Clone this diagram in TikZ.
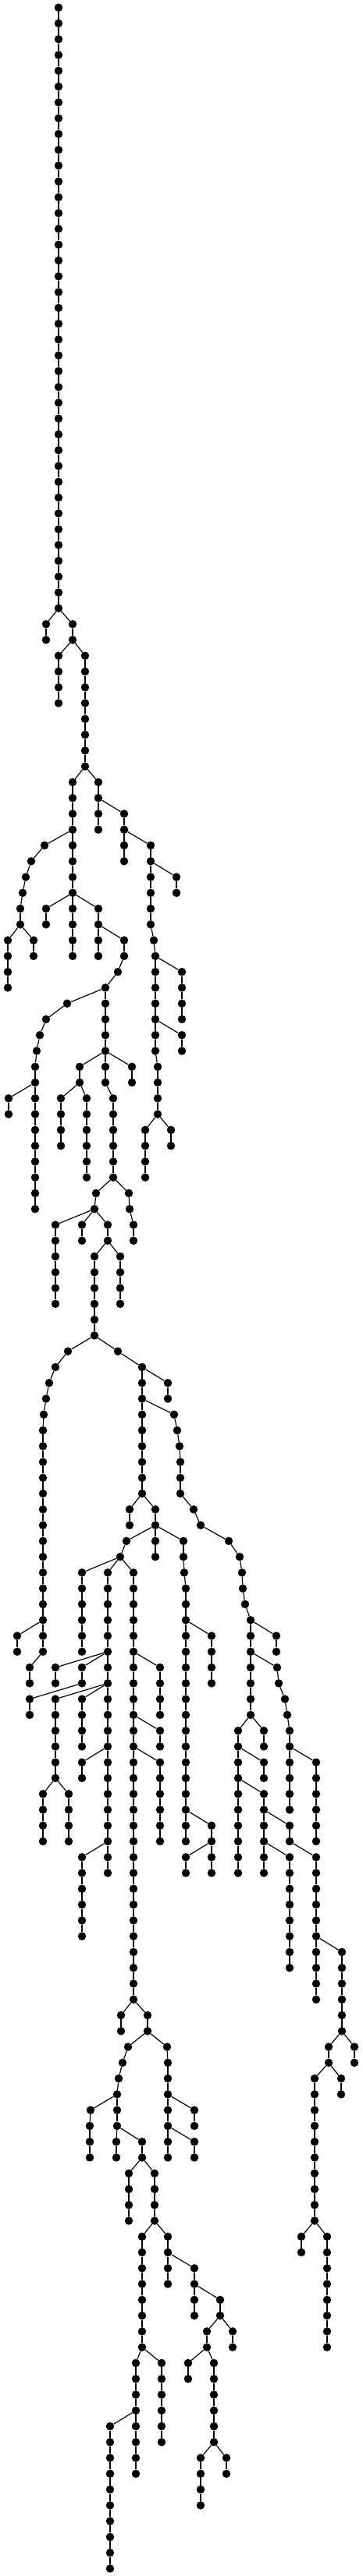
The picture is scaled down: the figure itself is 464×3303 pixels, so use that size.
\documentclass[tikz,border=0pt]{standalone}

\tikzset{
  dot/.style={circle, fill=black, inner sep=0pt, minimum size=10.5pt},
  edge/.style={line width=1.2pt}
}

% straight run of nodes: name, parent, x, first level, last level
\newcommand\vchain[5]{%
  \foreach \l in {#4,...,#5}{\node[dot] (#1-\l) at (#3,\l) {};}
  \draw[edge] (#2) -- (#1-#4);
  \foreach \l [remember=\l as \lp (initially #4)] in {#4,...,#5}{%
    \ifnum\l>#4\relax \draw[edge] (#1-\lp) -- (#1-\l);\fi}
}
% bent run of nodes: name, parent, list x/level
\newcommand\bchain[3]{%
  \foreach \x/\l [count=\i, remember=\l as \lp (initially 0)] in {#3}{%
    \node[dot] (#1-\l) at (\x,\l) {};
    \ifnum\i=1\relax \draw[edge] (#2) -- (#1-\l);\else \draw[edge] (#1-\lp) -- (#1-\l);\fi}
}

\begin{document}
\begin{tikzpicture}[x=1pt, y=-20.27pt]

        \useasboundingbox (0pt,9.7pt) rectangle (464pt,-3293.3pt);

        \node[dot] (r-0) at (75,0) {};
        \vchain{r}{r-0}{75}{1}{38}
        \vchain{a}{r-38}{59}{39}{40}
        \vchain{b}{r-38}{93}{39}{40}
        \vchain{c}{b-40}{75}{41}{44}
        \vchain{d}{b-40}{109}{41}{48}

        \vchain{e}{d-48}{93}{49}{56}
        \bchain{f}{e-52}{57/53,40/54,33/55,29/56,26/57,26/58}
        \vchain{g}{f-58}{10}{59}{62}
        \vchain{h}{f-58}{43}{59}{60}
        \vchain{i}{e-56}{59}{57}{58}
        \vchain{j}{e-56}{93}{57}{60}
        \vchain{k}{e-56}{126}{57}{58}
        \vchain{l}{k-58}{126}{59}{60}
        \bchain{m}{k-58}{159/59,159/60,151/61,135/62}
        \bchain{n}{m-62}{86/63,59/64,51/65,47/66,45/67}
        \vchain{o}{n-67}{45}{68}{76}
        \vchain{p}{o-68}{11}{69}{70}
        \vchain{q}{m-62}{135}{63}{66}
        \vchain{s}{q-66}{102}{67}{68}
        \vchain{t}{q-66}{135}{67}{68}
        \vchain{u}{q-66}{169}{67}{68}
        \vchain{v}{s-68}{78}{69}{72}
        \vchain{w}{s-68}{111}{69}{74}
        \vchain{t2}{t-68}{145}{69}{74}
        \bchain{x}{t2-74}{123/75,121/76}
        \bchain{y}{t2-74}{165/75,166/76,171/77,171/78}
        \vchain{z1}{x-76}{71}{77}{82}
        \vchain{z2}{x-76}{105}{77}{78}
        \vchain{z3}{x-76}{138}{77}{78}
        \vchain{z4}{z3-78}{121}{79}{84}
        \vchain{z5}{z3-78}{154}{79}{82}
        \bchain{aa}{z4-84}{87/85,71/86,63/87,59/88,56/89}
        \vchain{ab}{aa-89}{55}{90}{104}
        \vchain{ac}{ab-102}{22}{103}{104}
        \vchain{ad}{ab-104}{38}{105}{106}
        \bchain{ae}{z4-84}{151/85,182/86}
        \vchain{af}{ae-86}{182}{87}{94}
        \vchain{ag}{ae-86}{215}{87}{88}
        \bchain{ah}{af-88}{223/89,227/90,230/91,231/92,231/93,231/94,248/95,257/96,293/97,307/98,310/99,311/100,314/101,321/102}
        \vchain{ai}{af-94}{166}{95}{96}
        \vchain{aj}{af-94}{199}{95}{98}
        \bchain{ak}{aj-96}{162/97,154/98}
        \bchain{al}{aj-96}{235/97,235/98,236/99}
        \vchain{am}{al-99}{238}{100}{116}
        \vchain{an}{am-102}{271}{103}{106}
        \vchain{ao}{am-114}{271}{115}{116}
        \vchain{ap}{ao-116}{238}{117}{118}
        \vchain{aq}{ao-116}{271}{117}{118}
        \vchain{ar}{ak-98}{105}{99}{104}
        \vchain{as}{ak-98}{138}{99}{116}
        \vchain{at}{ak-98}{171}{99}{126}
        \vchain{au}{as-104}{71}{105}{106}
        \vchain{av}{as-104}{105}{105}{106}
        \vchain{aw}{av-106}{38}{107}{108}
        \vchain{ax}{as-106}{71}{107}{112}
        \vchain{ay}{as-106}{105}{107}{110}
        \vchain{az}{ax-112}{55}{113}{116}
        \vchain{ba}{ax-112}{88}{113}{116}
        \vchain{bb}{as-110}{105}{111}{112}
        \vchain{bc}{as-116}{105}{117}{122}
        \vchain{bd}{as-116}{138}{117}{118}
        \vchain{be}{at-104}{205}{105}{108}
        \vchain{bf}{at-108}{205}{109}{110}
        \vchain{bg}{at-110}{205}{111}{116}
        \vchain{bh}{at-126}{155}{127}{128}
        \vchain{bi}{at-126}{189}{127}{128}
        \bchain{bj}{bi-128}{164/129,157/130,152/131,150/132}
        \bchain{bk}{bi-128}{214/129,215/130,215/131,215/132}
        \bchain{bl}{bj-132}{116/133,115/134,115/135,115/136}
        \vchain{bm}{bj-132}{150}{133}{134}
        \vchain{bn}{bm-134}{149}{135}{136}
        \vchain{bo}{bm-134}{182}{135}{136}
        \vchain{bp}{bo-136}{165}{137}{140}
        \vchain{bq}{bo-136}{198}{137}{140}
        \vchain{br}{bq-140}{182}{141}{148}
        \vchain{bs}{bq-140}{215}{141}{142}
        \vchain{bt}{bs-142}{215}{143}{144}
        \vchain{bu}{bs-142}{249}{143}{144}
        \vchain{bv}{bu-144}{249}{145}{146}
        \vchain{bw}{bu-144}{282}{145}{146}
        \vchain{bx}{bw-146}{265}{147}{148}
        \vchain{by}{bw-146}{298}{147}{148}
        \vchain{bz}{bx-148}{241}{149}{150}
        \vchain{ca}{bx-148}{274}{149}{154}
        \vchain{cb}{ca-154}{257}{155}{158}
        \vchain{cc}{ca-154}{290}{155}{156}
        \vchain{cd}{br-148}{174}{149}{152}
        \vchain{ce}{br-148}{207}{149}{154}
        \vchain{cf}{cd-152}{141}{153}{162}
        \vchain{cg}{cd-152}{174}{153}{156}
        \vchain{ch}{bk-132}{249}{133}{134}
        \vchain{ci}{bk-132}{215}{133}{134}
        \vchain{cj}{ci-134}{249}{135}{136}
        \vchain{ck}{ci-134}{215}{135}{136}

        \vchain{cl}{ah-102}{354}{103}{104}
        \vchain{cm}{ah-102}{321}{103}{108}
        \bchain{cn}{cm-104}{355/105,357/106,365/107,368/108,371/109}
        \vchain{co}{cn-109}{371}{110}{114}
        \vchain{cp}{co-110}{405}{111}{116}
        \vchain{cq}{cm-108}{305}{109}{118}
        \vchain{cr}{cm-108}{338}{109}{110}
        \vchain{cs}{cq-110}{338}{111}{112}
        \vchain{ct}{cq-112}{338}{113}{118}
        \vchain{cu}{ct-114}{371}{115}{116}
        \vchain{cv}{ct-116}{371}{117}{124}
        \vchain{cw}{cu-116}{405}{117}{126}
        \vchain{cx}{cw-122}{438}{123}{128}
        \vchain{cy}{cx-128}{421}{129}{130}
        \vchain{cz}{cx-128}{454}{129}{130}
        \vchain{da}{cy-130}{403}{131}{140}
        \vchain{db}{cy-130}{437}{131}{132}
        \vchain{dc}{da-140}{386}{141}{142}
        \vchain{dd}{da-140}{419}{141}{148}

        \vchain{ea}{d-48}{126}{49}{50}
        \vchain{eb}{ea-50}{126}{51}{52}
        \vchain{ec}{ea-50}{159}{51}{52}
        \vchain{ed}{ec-52}{159}{53}{54}
        \vchain{ee}{ec-52}{193}{53}{54}
        \vchain{ef}{ee-54}{226}{55}{56}
        \bchain{eg}{ee-54}{193/55,193/56,193/57,193/58,197/59,199/60}
        \vchain{eh}{eg-60}{233}{61}{64}
        \vchain{ei}{eg-60}{199}{61}{66}
        \vchain{ej}{ei-64}{233}{65}{66}
        \vchain{ek}{ei-66}{202}{67}{70}
        \vchain{el}{ek-70}{186}{71}{74}
        \vchain{em}{ek-70}{219}{71}{72}

    \end{tikzpicture}
\end{document}
